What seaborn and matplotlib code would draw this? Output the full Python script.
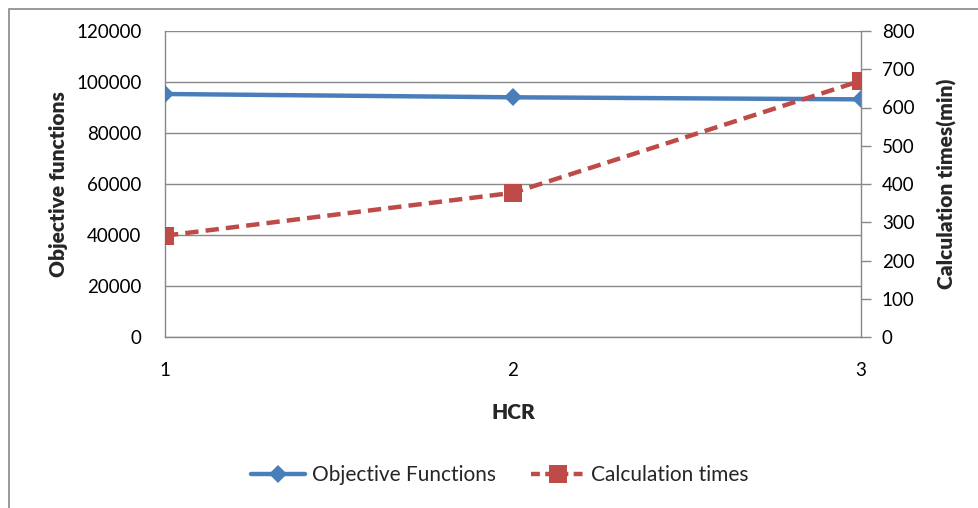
import matplotlib
matplotlib.use("Agg")
import matplotlib.pyplot as plt
from matplotlib.patches import Rectangle
from matplotlib.lines import Line2D
import seaborn as sns
import pandas as pd

hcr = [1, 2, 3]
objective = [95300, 94000, 93200]
calc_times = [265, 377, 670]
left_ticks = [0, 20000, 40000, 60000, 80000, 100000, 120000]
right_ticks = [0, 100, 200, 300, 400, 500, 600, 700, 800]

sns.set_theme(style="white")
plt.rcParams["font.family"] = ["Lato", "DejaVu Sans"]

blue = "#4a7ebb"
red = "#be4b48"
grid_c = "#888888"

df = pd.DataFrame({"HCR": hcr, "Objective Functions": objective,
                   "Calculation times": calc_times})

fig = plt.figure(figsize=(9.79, 5.08), dpi=100)
ax = fig.add_axes([165/979, 1-337/508, (861-165)/979, (337-31)/508])
ax2 = ax.twinx()

sns.lineplot(data=df, x="HCR", y="Objective Functions", ax=ax, color=blue,
             lw=3.2, marker="D", markersize=9.5, markeredgewidth=0, zorder=4)
sns.lineplot(data=df, x="HCR", y="Calculation times", ax=ax2, color=red,
             lw=3.2, marker="s", markersize=12.5, markeredgewidth=0,
             dashes=False, zorder=3)
ax2.lines[0].set_linestyle((0, (3, 1.6)))

ax.set_xlim(1, 3)
ax.set_ylim(0, 120000)
ax2.set_ylim(0, 800)
ax.set_xticks(hcr)
ax.set_xticklabels([str(v) for v in hcr])
ax.set_yticks(left_ticks)
ax.set_yticklabels([str(v) for v in left_ticks])
ax2.set_yticks(right_ticks)
ax2.set_yticklabels([str(v) for v in right_ticks])

ax.yaxis.grid(True, color=grid_c, lw=1)
ax.xaxis.grid(False)
for sp in ["top", "right"]:
    ax.spines[sp].set_visible(False)
for sp in ["top", "left"]:
    ax2.spines[sp].set_visible(False)
ax.spines["left"].set_color(grid_c)
ax.spines["bottom"].set_color(grid_c)
ax2.spines["right"].set_color(grid_c)
ax2.spines["bottom"].set_visible(False)
ax.spines["left"].set_linewidth(1)
ax.spines["bottom"].set_linewidth(1)
ax2.spines["right"].set_linewidth(1)

ax.tick_params(axis="y", length=0, pad=17, labelsize=13.5, labelcolor="black")
ax.tick_params(axis="x", length=0, pad=18, labelsize=13.5, labelcolor="black")
ax2.tick_params(axis="y", length=7, width=1, color=grid_c, pad=8,
                labelsize=13.5, labelcolor="black", direction="out")

ax.set_xlabel("HCR", fontsize=15, fontweight="heavy", labelpad=17)
ax.set_ylabel("Objective functions", fontsize=15, fontweight="heavy", labelpad=6)
ax2.set_ylabel("Calculation times(min)", fontsize=15, fontweight="heavy", labelpad=16)

handles = [
    Line2D([], [], color=blue, lw=3.2, marker="D", markersize=9.5, markeredgewidth=0),
    Line2D([], [], color=red, lw=3.2, marker="s", markersize=12.5, markeredgewidth=0,
           linestyle=(0, (2, 1.2))),
]
fig.legend(handles, ["Objective Functions", "Calculation times"], ncol=2,
           loc="center", bbox_to_anchor=(500/979, 1-475/508), frameon=False,
           fontsize=15, handlelength=2.6, columnspacing=1.7, handletextpad=0.3)

fig.patches.append(Rectangle((9/979, -0.1), 1.2, 1.1 - 9/508,
                             transform=fig.transFigure, fill=False,
                             edgecolor=grid_c, lw=1.2))

fig.savefig("out.png", dpi=100)
